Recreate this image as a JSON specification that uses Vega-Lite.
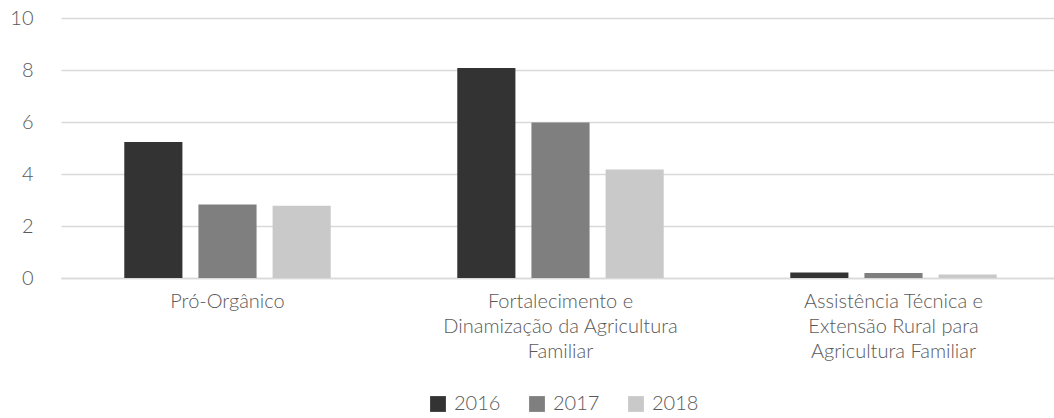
{
  "$schema": "https://vega.github.io/schema/vega-lite/v6.json",
  "autosize": "none",
  "width": 999,
  "height": 260,
  "padding": {"left": 61, "top": 18, "right": 0, "bottom": 140},
  "background": "white",
  "config": {
    "view": {"stroke": null},
    "font": "Lato",
    "axis": {"labelFont": "Lato", "labelFontWeight": 300, "labelColor": "#595959", "labelFontSize": 20},
    "legend": {"labelFont": "Lato", "labelFontWeight": 300, "labelColor": "#595959", "labelFontSize": 20}
  },
  "data": {
    "values": [
      {"program": "Pró-Orgânico", "year": "2016", "value": 5.23},
      {"program": "Pró-Orgânico", "year": "2017", "value": 2.83},
      {"program": "Pró-Orgânico", "year": "2018", "value": 2.78},
      {"program": "Fortalecimento e|Dinamização da Agricultura|Familiar", "year": "2016", "value": 8.08},
      {"program": "Fortalecimento e|Dinamização da Agricultura|Familiar", "year": "2017", "value": 5.98},
      {"program": "Fortalecimento e|Dinamização da Agricultura|Familiar", "year": "2018", "value": 4.17},
      {"program": "Assistência Técnica e|Extensão Rural para|Agricultura Familiar", "year": "2016", "value": 0.21},
      {"program": "Assistência Técnica e|Extensão Rural para|Agricultura Familiar", "year": "2017", "value": 0.19},
      {"program": "Assistência Técnica e|Extensão Rural para|Agricultura Familiar", "year": "2018", "value": 0.13}
    ]
  },
  "mark": {"type": "bar"},
  "encoding": {
    "x": {
      "field": "program",
      "type": "nominal",
      "sort": null,
      "scale": {"paddingInner": 0.38, "paddingOuter": 0.19},
      "axis": {
        "title": null,
        "labelAngle": 0,
        "labelExpr": "split(datum.value, '|')",
        "labelLineHeight": 25,
        "labelPadding": 13,
        "labelLimit": 0,
        "ticks": false,
        "domainColor": "#d9d9d9",
        "domainWidth": 1.5,
        "labelBaseline": "top"
      }
    },
    "xOffset": {
      "field": "year",
      "type": "nominal",
      "scale": {"paddingInner": 0.216, "paddingOuter": 0}
    },
    "y": {
      "field": "value",
      "type": "quantitative",
      "scale": {"domain": [0, 10]},
      "axis": {
        "title": null,
        "values": [0, 2, 4, 6, 8, 10],
        "domain": false,
        "ticks": false,
        "labelPadding": 28,
        "gridColor": "#d9d9d9",
        "gridWidth": 1.5
      }
    },
    "color": {
      "field": "year",
      "type": "nominal",
      "scale": {"range": ["#333333", "#7f7f7f", "#c9c9c9"]},
      "legend": {
        "title": null,
        "orient": "none",
        "direction": "horizontal",
        "legendX": 367,
        "legendY": 376,
        "symbolType": "square",
        "symbolSize": 250,
        "symbolStrokeWidth": 0,
        "symbolOpacity": 1,
        "columnPadding": 26,
        "labelOffset": 6
      }
    }
  }
}
